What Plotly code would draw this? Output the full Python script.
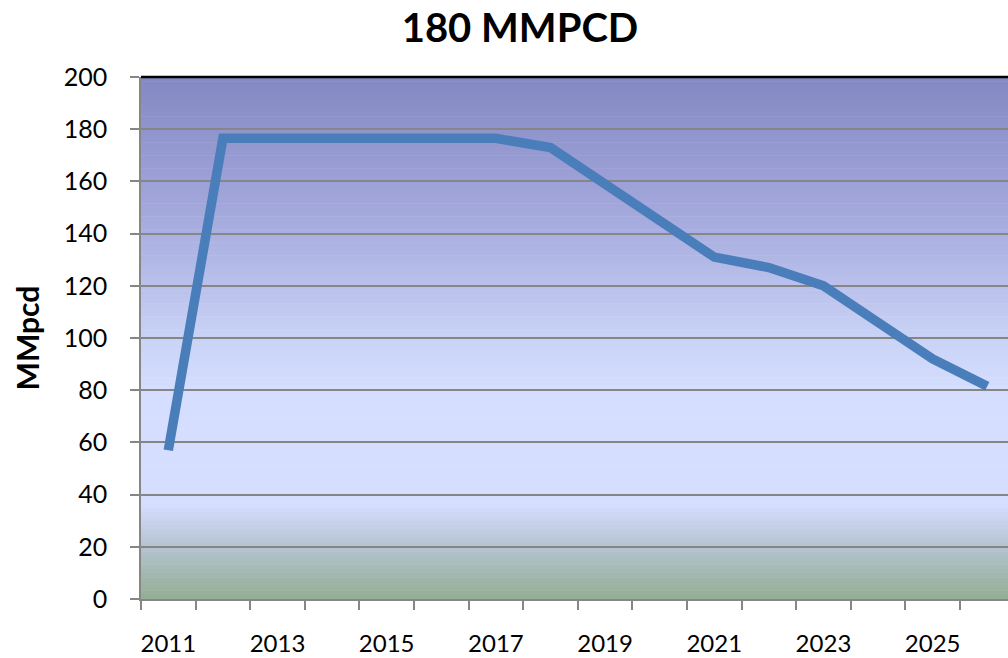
import plotly.graph_objects as go

years = [str(y) for y in range(2011, 2027)]
values = [57, 176.5, 176.5, 176.5, 176.5, 176.5, 176.5, 173, 159, 145, 131, 127, 120, 106, 92, 81.5]
tick_text = [y if i % 2 == 0 else "" for i, y in enumerate(years)]

FONT = "Lato, Calibri, Carlito, sans-serif"

# vertical background gradient (top -> bottom)
stops = [
    (0.00, (0x84, 0x88, 0xC3)),
    (0.25, (0xA2, 0xA7, 0xDB)),
    (0.50, (0xC9, 0xD2, 0xF6)),
    (0.60, (0xD5, 0xDE, 0xFF)),
    (0.82, (0xD5, 0xDE, 0xFF)),
    (0.90, (0xB4, 0xC3, 0xCF)),
    (1.00, (0x94, 0xAD, 0x93)),
]

def color_at(f):
    for (f0, c0), (f1, c1) in zip(stops[:-1], stops[1:]):
        if f0 <= f <= f1:
            t = (f - f0) / (f1 - f0) if f1 > f0 else 0
            return "rgb(%d,%d,%d)" % tuple(round(a + (b - a) * t) for a, b in zip(c0, c1))
    return "rgb(%d,%d,%d)" % stops[-1][1]

N = 120
shapes = []
for i in range(N):
    f = (i + 0.5) / N
    shapes.append(dict(
        type="rect", xref="x domain", yref="y domain",
        x0=0, x1=1, y0=1 - (i + 1) / N - 0.001, y1=1 - i / N,
        fillcolor=color_at(f), line=dict(width=0), layer="below",
    ))
shapes.append(dict(type="line", xref="x domain", yref="y domain",
                   x0=0, x1=1, y0=1, y1=1, line=dict(color="black", width=2.5), layer="above"))

fig = go.Figure()
fig.add_trace(go.Scatter(
    x=years, y=values, mode="lines",
    line=dict(color="#4A7EBB", width=9.5),
    showlegend=False,
))

fig.update_layout(
    width=1008, height=658,
    margin=dict(l=141, r=0, t=77, b=59, autoexpand=False),
    paper_bgcolor="white",
    plot_bgcolor="rgba(0,0,0,0)",
    shapes=shapes,
    title=dict(text="<b>180 MMPCD</b>", x=520 / 1008, xanchor="center",
               y=1 - 28 / 658, yanchor="middle",
               font=dict(family=FONT, size=40, color="black")),
    font=dict(family=FONT, color="black"),
)
fig.update_xaxes(
    type="category",
    range=[-0.5, 15.38],
    tickmode="array", tickvals=years, ticktext=tick_text,
    tickson="boundaries", tickangle=0, automargin=False,
    ticks="outside", ticklen=9, tickwidth=1.5, tickcolor="#868686",
    showgrid=False,
    showline=True, linecolor="#868686", linewidth=1.5,
    tickfont=dict(family=FONT, size=24, color="black"),
    ticklabelstandoff=22,
)
fig.update_yaxes(
    range=[0, 200], dtick=20, tick0=0, automargin=False,
    ticks="outside", ticklen=9, tickwidth=1.5, tickcolor="#868686",
    showgrid=True, gridcolor="#868686", gridwidth=1.5,
    showline=True, linecolor="#868686", linewidth=1.5,
    zeroline=False,
    tickfont=dict(family=FONT, size=25, color="black"),
    ticklabelstandoff=18,
    title=dict(text="<b>MMpcd</b>", font=dict(family=FONT, size=30, color="black"), standoff=15),
)

fig.write_html(
    "out.html",
    config={"displayModeBar": False},
    post_script="document.body.style.margin='0';document.body.style.overflow='hidden';",
)
